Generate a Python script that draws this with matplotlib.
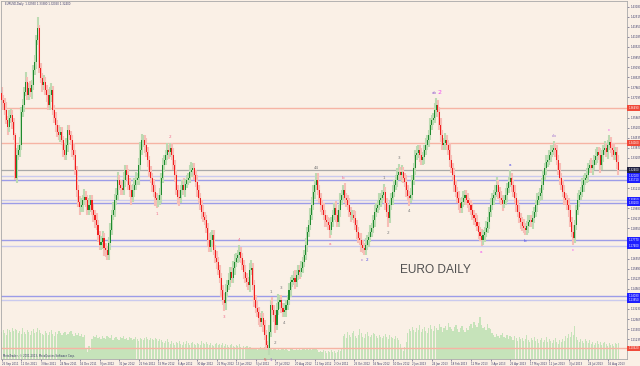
import matplotlib
matplotlib.use('Agg')
import matplotlib.pyplot as plt
import matplotlib.transforms as mtransforms
import numpy as np

# ---------------- data ----------------
first_open = 1.3750
closes_a = [1.3702,1.3682,1.3636,1.3570,1.3524,1.3583,1.3603,1.3557,1.3471,1.3187,
            1.3339,1.3372,1.3405,1.3623,1.3669,1.3755,1.3821,1.3735,1.3781,1.3755,
            1.3801,1.3900,1.3953,1.4098,1.4177,1.3913,1.3847,1.3801,1.3821,1.3768,
            1.3735,1.3669,1.3735,1.3768,1.3636,1.3583,1.3537,1.3491,1.3471,1.3491,
            1.3438,1.3372,1.3339,1.3405,1.3504,1.3471,1.3438,1.3372,1.3339,1.3240,
            1.3108,1.3029,1.2996,1.3009,1.3042,1.3062,1.3042,1.2976,1.3009,1.3042,
            1.2976,1.2943,1.2910,1.2877,1.2811,1.2745,1.2765,1.2791,1.2725,1.2712,
            1.2679,1.2758,1.2844,1.2943,1.2976,1.3042,1.3075,1.3174,1.3141,1.3121,
            1.3108,1.3174,1.3240,1.3207,1.3141,1.3108,1.3062,1.3108,1.3141,1.3174,
            1.3187,1.3273,1.3372,1.3438,1.3438,1.3405,1.3359,1.3306,1.3227,1.3187,
            1.3141,1.3095,1.3055,1.3042,1.3042,1.3075]
closes_b = [1.3187,1.3273,1.3306,1.3339,1.3372,1.3359,1.3385,1.3339,1.3273,1.3207,
            1.3108,1.3062,1.3055,1.3108,1.3141,1.3108,1.3148,1.3174,1.3187,1.3227,
            1.3240,1.3253,1.3207,1.3161,1.3108,1.3055,1.3009,1.2963,1.2930,1.2910,
            1.2857,1.2778,1.2732,1.2778,1.2811,1.2712,1.2659,1.2633,1.2580,1.2527,
            1.2448,1.2382,1.2362,1.2435,1.2481,1.2514,1.2567,1.2527,1.2593,1.2633,
            1.2659,1.2679,1.2699,1.2659,1.2613,1.2567,1.2527,1.2501,1.2481,1.2580,
            1.2593,1.2481,1.2382,1.2329,1.2303,1.2263,1.2237,1.2263,1.2217,1.2151,
            1.2085,1.2065,1.2171,1.2349,1.2316,1.2283,1.2217,1.2316,1.2369,1.2382,
            1.2329,1.2303,1.2316,1.2349,1.2382,1.2448,1.2501,1.2514,1.2527,1.2501,
            1.2547,1.2580,1.2567,1.2593,1.2633,1.2679,1.2745,1.2831,1.2877,1.2943,
            1.3009,1.3095,1.3141,1.3174]
closes_c = [1.3108,1.3055,1.3009,1.2976,1.2943,1.2910,1.2897,1.2877,1.2844,1.2897,
            1.2943,1.2989,1.2943,1.2897,1.2976,1.3042,1.3075,1.3108,1.3055,1.3042,
            1.3009,1.2963,1.2943,1.2943,1.2923,1.2877,1.2831,1.2791,1.2778,1.2745,
            1.2725,1.2712,1.2745,1.2778,1.2798,1.2831,1.2857,1.2910,1.2963,1.2989,
            1.3009,1.3042,1.3055,1.3075,1.3095,1.3022,1.2963,1.2923,1.3009,1.3055,
            1.3095,1.3141,1.3174,1.3207,1.3227,1.3207,1.3227,1.3187,1.3161,1.3108,
            1.3068,1.3055,1.3075,1.3174,1.3253,1.3339,1.3352,1.3372,1.3339,1.3306,
            1.3326,1.3372,1.3405,1.3438,1.3471,1.3537,1.3570,1.3583,1.3636,1.3669,
            1.3623,1.3537,1.3471,1.3405,1.3418,1.3438,1.3405,1.3372,1.3306,1.3253,
            1.3207,1.3141,1.3095,1.3055,1.3022,1.2989,1.3029,1.3055,1.3075]
closes_d = [1.3042,1.3022,1.3009,1.2976,1.2943,1.2923,1.2897,1.2870,1.2831,1.2804,
            1.2778,1.2811,1.2831,1.2857,1.2897,1.2963,1.3009,1.3055,1.3075,1.3095,
            1.3141,1.3095,1.3055,1.3042,1.3016,1.3042,1.3075,1.3121,1.3161,1.3187,
            1.3141,1.3095,1.3055,1.3009,1.2963,1.2923,1.2897,1.2870,1.2857,1.2844,
            1.2870,1.2897,1.2910,1.2897,1.2923,1.2963,1.3009,1.3042,1.3068,1.3088,
            1.3141,1.3207,1.3253,1.3293,1.3306,1.3339,1.3359,1.3372,1.3385,1.3372,
            1.3306,1.3240,1.3187,1.3141,1.3095,1.3055,1.3042,1.3009,1.2976,1.2897,
            1.2831,1.2791,1.2877,1.2976,1.3042,1.3075,1.3095,1.3141,1.3174,1.3187,
            1.3207,1.3253,1.3273,1.3253,1.3273,1.3306,1.3332,1.3359,1.3339,1.3273,
            1.3339,1.3372,1.3385,1.3359,1.3405,1.3425,1.3385,1.3372,1.3339,1.3359,
            1.3293,1.3240]

# upper / lower wick lengths in pips
upper_a = [40,35,30,50,25,55,40,35,25,15, 45,35,50,30,40,35,65,30,35,45,
           30,35,45,30,73,20,35,30,45,35, 30,40,50,45,25,30,40,30,45,35,
           30,25,40,45,30,35,25,30,45,30, 25,30,40,45,35,50,40,30,45,35,
           30,40,30,45,30,25,40,45,30,35, 25,40,45,30,50,40,45,50,35,30,
           45,50,35,30,40,45,30,40,45,50, 35,45,50,40,30,35,45,30,25,40,
           30,40,45,30,35,45]
lower_a = [35,45,30,25,50,35,30,45,35,15, 30,35,45,35,30,45,25,35,30,35,
           45,30,35,45,30,35,30,45,35,30, 45,30,35,45,35,30,45,35,30,45,
           35,45,30,35,45,30,35,45,30,35, 45,35,50,30,45,35,45,35,30,45,
           35,45,50,35,45,35,30,45,50,45, 35,35,45,35,30,45,35,30,35,45,
           30,35,45,35,30,45,50,35,45,30, 35,45,30,35,45,50,35,45,35,30,
           45,35,50,55,45,35]
upper_b = [35,45,30,35,45,30,35,30,45,35, 30,35,45,30,35,45,30,35,30,45,
           50,35,30,35,45,30,35,30,45,35, 30,35,45,50,35,30,35,45,30,35,
           30,35,45,50,35,45,30,35,45,50, 35,30,45,35,30,35,45,30,35,45,
           50,35,30,35,45,30,35,45,30,35, 30,25,45,35,50,30,35,45,55,35,
           30,35,45,30,35,45,30,35,45,50, 35,30,35,45,30,35,45,30,35,45,
           50,45,35,45]
lower_b = [50,35,45,30,35,45,30,35,30,45, 35,45,50,35,30,35,45,30,35,30,
           35,45,30,35,45,30,35,45,35,30, 35,45,30,35,45,35,30,45,35,30,
           45,35,55,45,30,35,45,30,35,45, 30,35,45,30,35,45,35,30,35,45,
           30,35,45,30,35,45,30,35,45,35, 30,15,45,35,30,45,50,35,30,45,
           35,30,35,45,30,35,45,30,35,45, 30,35,45,30,35,30,35,45,30,35,
           30,35,45,35]
upper_c = [45,35,30,35,45,30,35,30,45,35, 30,35,45,30,35,45,30,35,45,30,
           35,45,30,35,30,45,35,30,35,45, 30,35,45,30,35,45,30,35,45,30,
           35,45,30,35,55,30,35,45,30,35, 45,30,35,45,55,35,45,30,35,45,
           30,35,45,35,30,35,45,30,35,45, 30,35,45,30,35,45,30,35,45,46,
           30,35,45,30,35,45,30,35,45,30, 35,45,30,35,45,30,35,45,30]
lower_c = [30,35,45,30,35,45,35,30,55,35, 30,35,45,30,35,45,30,35,30,45,
           35,30,45,35,30,35,45,30,35,45, 35,30,30,35,45,30,35,30,45,35,
           30,35,45,30,35,45,35,60,30,35, 45,30,35,45,30,35,45,30,35,45,
           30,50,35,30,35,45,30,35,45,30, 35,45,30,35,45,30,35,30,35,45,
           30,35,45,30,35,45,30,35,45,30, 35,45,30,35,45,35,30,35,45]
upper_d = [35,45,30,35,45,30,35,45,30,35, 45,30,35,45,30,35,45,30,35,45,
           55,30,35,45,30,35,45,30,35,50, 30,35,45,30,35,45,30,35,45,30,
           35,45,30,35,45,30,35,45,30,35, 45,30,35,45,30,35,45,30,45,35,
           30,35,45,30,35,45,30,35,45,30, 35,45,30,35,45,30,35,45,30,35,
           45,30,35,45,30,35,45,30,35,45, 30,35,45,30,35,45,30,35,45,30,
           35,45]
lower_d = [30,35,45,30,35,45,30,35,45,30, 40,35,45,30,35,45,30,35,45,30,
           35,45,30,35,45,30,35,45,30,35, 45,30,35,45,30,35,45,30,35,30,
           35,45,30,35,45,30,35,45,30,35, 45,30,35,45,30,35,45,30,35,45,
           30,35,45,30,35,45,30,35,45,30, 35,45,35,30,35,45,30,35,45,30,
           35,45,30,35,45,30,35,45,30,55, 35,45,30,35,45,30,35,45,30,35,
           45,35]

# tick volume (thousands)
vol_a = [110,118,104,96,122,116,108,124,112,120, 118,106,114,100,124,110,102,116,108,98,
         112,120,104,110,124,118,106,100,96,112, 104,98,110,116,102,94,108,100,112,106,
         98,104,110,96,102,108,114,100,94,106, 98,104,92,100,88,96,40,28,52,36,
         80,92,88,96,84,90,82,94,86,80, 92,88,84,96,78,86,90,82,76,88,
         84,92,80,86,78,90,84,76,82,88, 80,74,86,82,78,84,90,80,76,86,
         82,78,84,80,74,82]
vol_b = [76,70,64,72,80,68,60,74,66,58, 70,64,72,60,56,68,62,74,66,58,
         64,70,60,56,66,62,58,72,64,60, 68,62,56,64,58,52,60,66,56,62,
         58,64,54,60,56,50,58,62,54,48, 56,52,60,50,46,54,48,52,44,50,
         42,46,40,44,38,42,48,40,44,50, 46,52,48,42,38,44,40,36,42,38,
         44,40,36,42,38,34,40,44,38,36, 42,38,40,36,44,40,38,42,36,40,
         38,42,46,40]
vol_c = [36,30,34,28,38,32,26,34,30,36, 28,32,26,30,36,34,40,92,100,84,
         108,96,88,104,112,92,86,98,120,104, 90,84,100,110,94,88,96,106,100,92,
         84,98,90,86,94,100,88,82,96,90, 86,80,92,84,78,60,40,32,48,70,
         104,120,112,130,118,108,124,116,136,110, 122,128,114,106,126,138,120,112,132,124,
         118,140,128,110,126,134,118,144,130,122, 114,128,136,120,110,124,132,116,108]
vol_d = [126,118,132,140,124,150,136,128,146,168, 138,124,130,118,142,126,120,104,96,88,
         100,92,84,96,104,90,86,98,80,92, 88,76,94,84,72,90,80,86,74,82,
         96,78,70,84,76,88,72,80,66,78, 84,70,76,88,68,82,74,64,78,86,
         70,62,76,68,80,72,92,84,100,88, 108,96,132,90,78,70,82,74,66,80,
         72,64,76,60,70,58,66,72,62,68, 56,64,70,60,52,66,58,62,54,64,
         60,66]

date_labels = ['26 Sep 2011','11 Oct 2011','3 Nov 2011','24 Nov 2011','16 Dec 2011',
               '9 Jan 2012','31 Jan 2012','22 Feb 2012','15 Mar 2012','6 Apr 2012',
               '30 Apr 2012','22 May 2012','13 Jun 2012','5 Jul 2012','27 Jul 2012',
               '20 Aug 2012','11 Sep 2012','2 Oct 2012','25 Oct 2012','16 Nov 2012',
               '10 Dec 2012','2 Jan 2013','24 Jan 2013','18 Feb 2013','12 Mar 2013',
               '3 Apr 2013','25 Apr 2013','17 May 2013','11 Jun 2013','3 Jul 2013',
               '24 Jul 2013','16 Aug 2013']
price_ticks = [1.43180,1.42515,1.41850,1.41185,1.40520,1.39855,1.39190,1.38525,1.37860,
               1.37195,1.36530,1.35865,1.35200,1.34535,1.33870,1.33205,1.32540,1.31875,
               1.31210,1.30545,1.29880,1.29215,1.28550,1.27885,1.27220,1.26555,1.25890,
               1.25225,1.24560,1.23895,1.23230,1.22565,1.21900,1.21235,1.20570]

level_prices = [1.3649, 1.3416, 1.3202, 1.3171, 1.3045, 1.3020,
                1.2777, 1.2740, 1.2408, 1.2385, 1.2062]
level_kinds = ['res','res','light','blue','light','blue',
               'blue','light','blue','light','res']

wave_bars = [112,103,158,148,177,177,179,182,186,188,209,218,227,241,241,
             254,257,264,271,289,289,319,338,348,367,380,404]
wave_text = ['2','1','4','3','5','1','1','2','3','4','44','a','b','c','2',
             '1','2','3','4','ab','2','a','a','b','cb','c','c']
wave_side = ['up','dn','up','dn','dn','dn','up','dn','up','dn','up','dn','up','dn','dn',
             'up','dn','up','dn','up','up','dn','up','dn','up','dn','up']

# ---------------- preparation ----------------
closes = closes_a + closes_b + closes_c + closes_d
ups = upper_a + upper_b + upper_c + upper_d
dns = lower_a + lower_b + lower_c + lower_d
vols = vol_a + vol_b + vol_c + vol_d
n = min(len(closes), len(ups), len(dns), len(vols))
closes = np.array(closes[:n])
ups = np.array(ups[:n]) / 10000.0
dns = np.array(dns[:n]) / 10000.0
vols = np.array(vols[:n])
opens = np.empty(n)
opens[0] = first_open
opens[1:] = closes[:-1]
highs = np.maximum(opens, closes) + ups
lows = np.minimum(opens, closes) - dns
x = np.arange(n)
bull = closes >= opens

BG = '#faf0e6'
fig = plt.figure(figsize=(6.4, 3.66), dpi=100, facecolor=BG)
rect = [1/640, 7/366, 625.5/640, 358/366]
XLIM = (-0.5, 415.4)

axv = fig.add_axes(rect, facecolor=BG)
axv.bar(x, vols, width=0.8, color='#c6e3ba', linewidth=0)
axv.set_xlim(*XLIM)
axv.set_ylim(0, 4 * 358)
axv.set_axis_off()

ax = fig.add_axes(rect, facecolor='none')
ax.set_xlim(*XLIM)
ax.set_ylim(1.19926, 1.43554)

# horizontal levels
line_col = {'res': '#f6b4a4', 'blue': '#9c9ce8', 'light': '#cacaee'}
box_col = {'res': '#f04a3a', 'blue': '#1e1eff', 'light': '#1e1eff'}
trans = mtransforms.blended_transform_factory(ax.transAxes, ax.transData)
bid = closes[-1]
for p, k in zip(level_prices, level_kinds):
    ax.axhline(p, color=line_col[k], lw=1.0, zorder=1)
    ax.text(1.003, p, f'{p:.5f}', transform=trans, fontsize=1.9, color='white',
            va='center', ha='left', clip_on=False, zorder=6,
            bbox=dict(facecolor=box_col[k], edgecolor='none', pad=0.7))
ax.axhline(bid, color='#a9a9a9', lw=0.9, zorder=1)
ax.text(1.003, bid, f'{bid:.5f}', transform=trans, fontsize=1.9, color='white',
        va='center', ha='left', clip_on=False, zorder=6,
        bbox=dict(facecolor='#202040', edgecolor='none', pad=0.7))

# candles
wick_cols = np.where(bull, '#bcdab2', '#f7bdb6')
body_cols = np.where(bull, '#1f8a2e', '#f01e1e')
ax.vlines(x, lows, highs, colors=wick_cols, lw=1.5, zorder=2)
body_h = np.maximum(np.abs(closes - opens), 0.00025)
ax.bar(x, body_h, bottom=np.minimum(opens, closes), width=0.7,
       color=body_cols, linewidth=0, zorder=3)

# wave labels
PINK, GRAY, PURPLE, MAG, BLUE, RED = '#f06a8a', '#7a7a7a', '#9a6ad0', '#f04cf0', '#4a4ae6', '#e04040'
wave_color = [PINK,PINK,PINK,PINK,RED,PURPLE,GRAY,GRAY,GRAY,GRAY,GRAY,PINK,PINK,PURPLE,BLUE,
              GRAY,GRAY,GRAY,GRAY,PURPLE,MAG,MAG,BLUE,BLUE,PURPLE,MAG,MAG]
wave_dx = [0,0,0,0,-2,2,0,0,0,0,0,0,0,-2,2,0,0,0,0,-1.5,2.5,0,0,0,0,0,0]
for i, (b, t, s) in enumerate(zip(wave_bars, wave_text, wave_side)):
    lo, hi = max(0, b - 3), min(n, b + 4)
    if s == 'up':
        yv, dy, va = highs[lo:hi].max(), 2.5, 'bottom'
    else:
        yv, dy, va = lows[lo:hi].min(), -2.5, 'top'
    size = 4.5 if (t == '2' and wave_color[i] == MAG) else 3.0
    ax.annotate(t, (b, yv), xytext=(wave_dx[i], dy), textcoords='offset points',
                ha='center', va=va, fontsize=size, color=wave_color[i], zorder=5)

ax.text(0.638, 0.249, 'EURO DAILY', transform=ax.transAxes, fontsize=8.6,
        family='Liberation Sans', color='#505050', ha='left', va='center')

# axes styling
for sp in ax.spines.values():
    sp.set_color('#a8a8a8')
    sp.set_linewidth(0.6)
ax.yaxis.tick_right()
covered = level_prices + [bid]
ax.set_yticks(price_ticks)
ax.set_yticklabels(['' if min(abs(v - c) for c in covered) < 0.0028 else f'{v:.5f}'
                    for v in price_ticks])
ax.tick_params(axis='y', labelsize=1.9, length=1.5, width=0.4, pad=1.2,
               colors='#3a3a6a')
xt = list(range(0, n, 13))[:len(date_labels)]
ax.set_xticks(xt)
ax.set_xticklabels(date_labels[:len(xt)], ha='left')
ax.tick_params(axis='x', labelsize=1.9, length=1.5, width=0.4, pad=1.0,
               colors='#3a3a6a')

fig.text(5/640, 1 - 4/366,
         f'EURUSD,Daily  {opens[-1]:.5f} {highs[-1]:.5f} {lows[-1]:.5f} {closes[-1]:.5f}',
         fontsize=1.9, color='#3a3a6a', va='center', ha='left')
fig.text(3/640, 1 - 356/366, 'MetaTrader, \u00a9 2001-2013, MetaQuotes Software Corp.',
         fontsize=1.9, color='#3a3a6a', va='center', ha='left')

fig.savefig('out.png', dpi=100, facecolor=BG)
